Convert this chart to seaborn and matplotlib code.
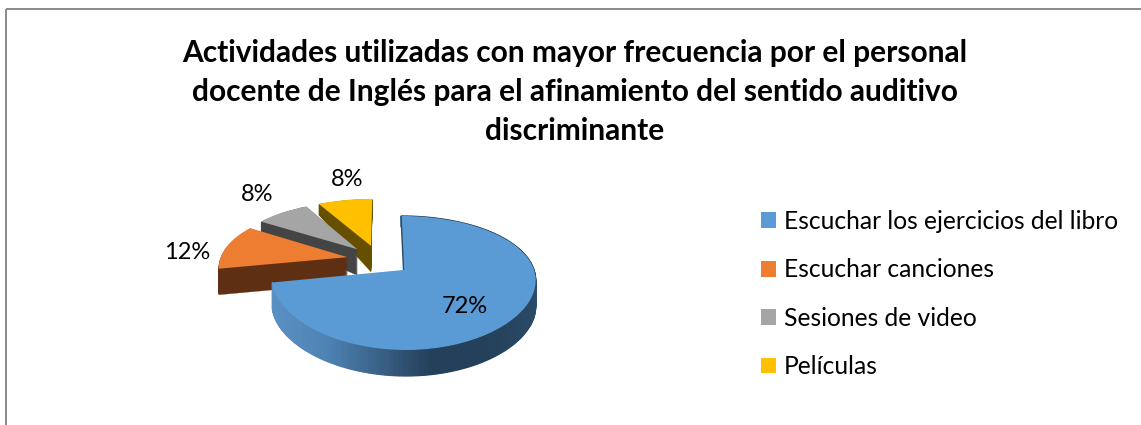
import numpy as np
import matplotlib
matplotlib.use("Agg")
import matplotlib.pyplot as plt
from matplotlib.patches import Wedge, Rectangle
from matplotlib.transforms import Transform
import seaborn as sns

# ---- data ----
title_lines = ["Actividades utilizadas con mayor frecuencia por el personal",
               "docente de Inglés para el afinamiento del sentido auditivo",
               "discriminante"]
categories = ["Escuchar los ejercicios del libro", "Escuchar canciones",
              "Sesiones de video", "Películas"]
shares = [72, 12, 8, 8]

# ---- styles ----
top_colors = ["#5b9bd5", "#ed7d31", "#a5a5a5", "#ffc000"]
wall_colors = ["#2a4a66", "#5f2f13", "#444444", "#665000"]
explode = [0.25, 0.25, 0.25, 0.25]
label_radius = [0.65, 1.29, 1.56, 1.62]
label_turn = [-9, 5.6, -5, -5.5]

sns.set_theme(style="white")
plt.rcParams["font.family"] = ["Lato", "DejaVu Sans"]


class TiltedDisc(Transform):
    """Perspective projection of the flat pie plane onto figure pixels."""
    input_dims = output_dims = 2
    is_affine = False
    has_inverse = False
    ox, oy = 0.1925, -0.16          # blue slice apex in pie units
    cx, cy = 403.5, 270.0           # where that apex lands
    a, k, p, px, shear = 130.5, 64.5, 0.194, 0.14, -2.5

    def __init__(self, drop=0.0):
        super().__init__()
        self.drop = drop

    def transform_non_affine(self, values):
        v = np.asarray(values, dtype=float)
        X, Y = v[:, 0] - self.ox, v[:, 1] - self.oy
        depth = np.interp(Y, [0.5, 0.9, 1.4], [26, 11, 11])
        return np.column_stack([self.cx + self.a * X / (1 + self.px * Y) + self.shear * Y,
                                self.cy - self.k * Y / (1 + self.p * Y) + self.drop * depth])


fig = plt.figure(figsize=(11.41, 4.25), dpi=100)
ax = fig.add_axes([0, 0, 1, 1])

wedges, _ = ax.pie(shares, explode=explode, colors=top_colors, startangle=90,
                   counterclock=False, wedgeprops={"linewidth": 0})
ax.set_aspect("auto")

z_order = [40, 30, 20, 10]
blue_ramp = sns.blend_palette(["#5a90c4", "#4f83b4", "#3a6288", "#24405a", "#24405a", "#2a4a66"], 120)

for i, w in enumerate(wedges):
    w.set_transform(TiltedDisc() + ax.transData)
    w.set_zorder(z_order[i] + 1)
    if i == 0:
        # shaded outer wall of the large slice, strip by strip
        edge = np.linspace(w.theta1, w.theta2, 241)
        ring = np.column_stack([w.center[0] + w.r * np.cos(np.radians(edge)),
                                w.center[1] + w.r * np.sin(np.radians(edge))])
        upper = TiltedDisc(0).transform(ring)
        lower = TiltedDisc(1).transform(ring)
        span = upper[:, 0].min(), upper[:, 0].max()
        for j in range(len(edge) - 1):
            xm = upper[j:j + 2, 0].mean()
            c = blue_ramp[int((xm - span[0]) / (span[1] - span[0]) * 119)]
            ax.fill([upper[j, 0], upper[j + 1, 0], lower[j + 1, 0], lower[j, 0]],
                    [upper[j, 1], upper[j + 1, 1], lower[j + 1, 1], lower[j, 1]],
                    fc=c, ec=c, lw=0.9, zorder=z_order[i])
        # thin sliver of the inner cut at twelve o'clock
        end = np.radians(w.theta2)
        ax.plot([w.center[0], w.center[0] + w.r * np.cos(end)],
                [w.center[1], w.center[1] + w.r * np.sin(end)],
                color=wall_colors[0], lw=1.0, solid_capstyle="butt",
                transform=TiltedDisc() + ax.transData, zorder=z_order[i] + 2)
    else:
        for drop in np.linspace(1, 0.04, 30):
            ax.add_patch(Wedge(w.center, w.r, w.theta1, w.theta2,
                               fc=wall_colors[i], ec=wall_colors[i], lw=0.2,
                               transform=TiltedDisc(drop) + ax.transData,
                               zorder=z_order[i]))
    mid = np.radians((w.theta1 + w.theta2) / 2 + label_turn[i])
    ax.annotate(f"{shares[i]}%",
                xy=(w.center[0] + label_radius[i] * np.cos(mid),
                    w.center[1] + label_radius[i] * np.sin(mid)),
                xycoords=TiltedDisc() + ax.transData,
                xytext=(0, -1.5), textcoords="offset points",
                ha="center", va="center", fontsize=17, color="black", zorder=100)

for n, line in enumerate(title_lines):
    ax.text(575, 52.5 + 39.5 * n, line, ha="center", va="center",
            fontsize=21.5, fontweight="bold", color="black")

fs = 17.7
px = fs * 100 / 72
ax.legend(wedges, categories, loc="upper left", bbox_to_anchor=(761, 210),
          bbox_transform=ax.transData, frameon=False, fontsize=fs,
          borderpad=0, borderaxespad=0, handlelength=15 / px, handleheight=15 / px,
          handletextpad=8 / px, labelspacing=(46 - px * 0.84) / px,
          labelcolor="black")

ax.add_patch(Rectangle((6, 9), 1300, 500, fill=False, ec="#8a8a8a", lw=1.4, zorder=200))

ax.set_xlim(0, 1141)
ax.set_ylim(425, 0)
ax.axis("off")
fig.savefig("out.png", dpi=100, facecolor="white")
